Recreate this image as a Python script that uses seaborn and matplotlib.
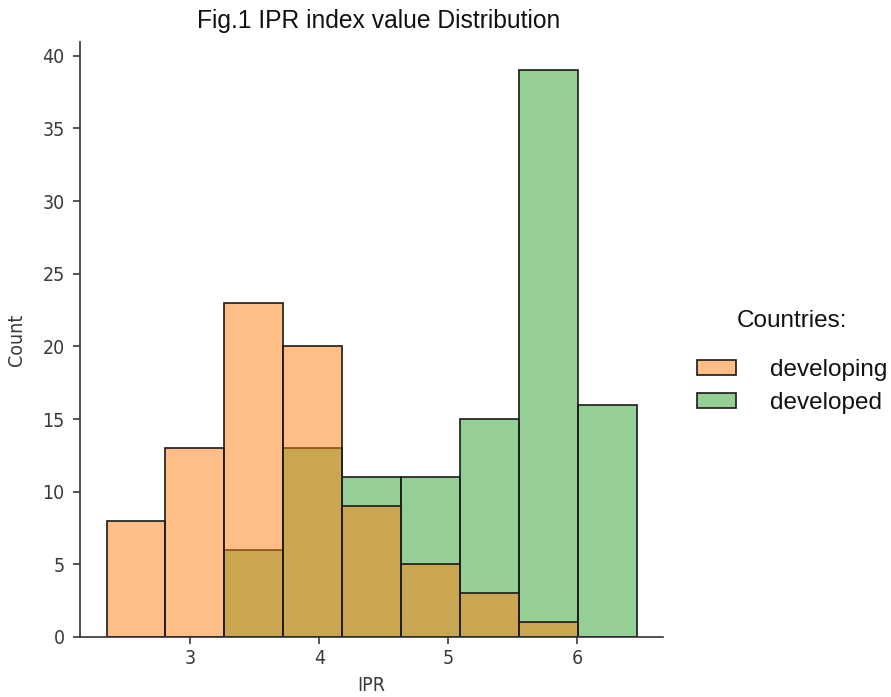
import matplotlib
matplotlib.use("Agg")
import matplotlib.pyplot as plt
import seaborn as sns
import pandas as pd
import numpy as np

# Data
bin_edges = [2.35, 2.807, 3.264, 3.721, 4.178, 4.635, 5.092, 5.549, 6.006, 6.463]
developing_counts = [8, 13, 23, 20, 9, 5, 3, 1, 0]
developed_counts = [0, 0, 6, 13, 11, 11, 15, 39, 16]
groups = ["developing", "developed"]
title = "Fig.1 IPR index value Distribution"

edges = np.array(bin_edges)
centers = (edges[:-1] + edges[1:]) / 2
df = pd.DataFrame({
    "IPR": np.concatenate([centers, centers]),
    "n": developing_counts + developed_counts,
    "Countries": [groups[0]] * len(centers) + [groups[1]] * len(centers),
})

sns.set_style("ticks")
plt.rcParams["font.family"] = ["DejaVu Sans"]

fig = plt.figure(figsize=(8.91, 6.97), dpi=100)
ax = fig.add_axes([0.0898, 0.0861, 0.6545, 0.8536])
sns.histplot(data=df, x="IPR", weights="n", hue="Countries", hue_order=groups,
             bins=bin_edges, palette={"developing": "tab:orange", "developed": "tab:green"},
             edgecolor="#1a1a1a", linewidth=1.2, ax=ax)
sns.despine(ax=ax)

ax.set_xticks([3, 4, 5, 6])
ax.tick_params(axis="both", labelsize=14, colors="#3a3a3a", length=5, width=1.2)
ax.tick_params(axis="y", pad=6)
ax.tick_params(axis="x", pad=4)
ax.set_xlabel("IPR", fontsize=14, color="#3a3a3a")
ax.set_ylabel("Count", fontsize=14, color="#3a3a3a")
ax.xaxis.set_label_coords(0.5, -0.066)
ax.yaxis.set_label_coords(-0.093, 0.5)
for t in ax.get_xticklabels() + ax.get_yticklabels() + [ax.xaxis.label, ax.yaxis.label]:
    t.set_fontstretch("condensed")
for s in ["left", "bottom"]:
    ax.spines[s].set_color("#333333")
    ax.spines[s].set_linewidth(1.2)

fig.text(0.4248, 0.970, title, ha="center", va="center", fontsize=17.7,
         family=["Liberation Sans"], color="#111111")

sns.move_legend(ax, loc="center left", bbox_to_anchor=(0.7575, 0.481),
                bbox_transform=fig.transFigure, frameon=False,
                title="Countries:", fontsize=17.5, title_fontsize=17.5,
                handlelength=1.6, handleheight=0.55, handletextpad=1.4,
                labelspacing=0.44)
leg = ax.get_legend()
for t in leg.get_texts() + [leg.get_title()]:
    t.set_family(["Liberation Sans"])
    t.set_color("#111111")
leg._legend_box.sep = 20

fig.savefig("out.png", dpi=100)
